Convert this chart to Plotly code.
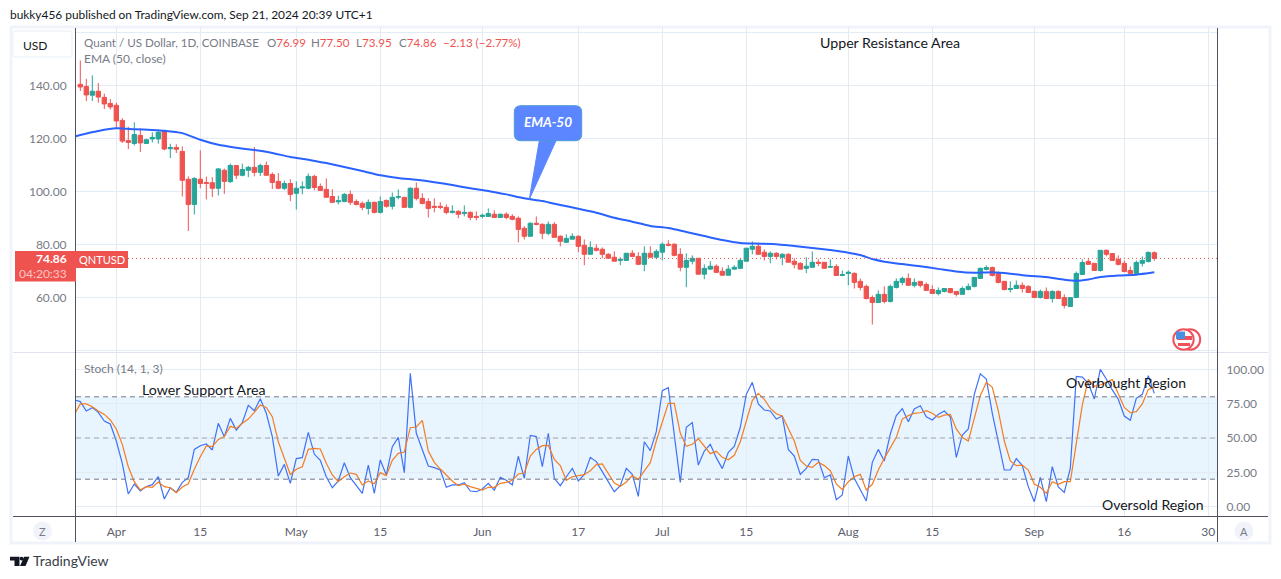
import pandas as pd
import plotly.graph_objects as go

W, H = 1281, 579
FONT = "Lato"
GREY = "#787b86"
UP = "#26a69a"
DOWN = "#ef5350"

# candles, one per day from 2024-03-26
opens = [
    140.5, 139.7, 136.4, 137.9, 135.6, 133.3, 132.6, 126.9, 119.3, 118.2,
    121.3, 118.2, 119.9, 119.9, 122.9, 116.2, 116.7, 115.2, 104.7, 95.2,
    104.7, 103.5, 103.4, 101.3, 108.1, 103.8, 109.9, 106.2, 108.1, 109.2,
    107.3, 109.9, 106.5, 103.9, 101.3, 103.1, 99.4, 101.4, 101.3, 105.8,
    102, 100.9, 98.2, 96.2, 96.3, 99, 96.3, 95.6, 93.7, 96,
    92.2, 96.7, 94.5, 97.9, 97.9, 94.1, 101.3, 97.5, 96.3, 94.5,
    94.5, 94.1, 92.2, 92.6, 91.8, 92.2, 90.7, 90.7, 90.7, 91.5,
    90.3, 91.5, 90.7, 90, 86.2, 83.2, 88.1, 87.7, 84.3, 87.7,
    83.2, 80.9, 82.1, 83.2, 79.8, 76.4, 78.7, 78.3, 76.4, 75.3,
    74.1, 74.1, 76.8, 75.6, 72.6, 76.8, 75.3, 77.2, 80.2, 80.2,
    76.4, 71.5, 73.8, 74.9, 68.9, 70.8, 71.9, 70, 68.5, 70.8,
    71.1, 73.8, 78.3, 79.4, 77.2, 75.6, 76.8, 75.3, 76.4, 73.8,
    73, 71.1, 71.5, 73.4, 73.4, 71.5, 71.8, 68.4, 69.2, 69.2,
    66.2, 64.3, 60.1, 58.2, 61.3, 58.6, 63.9, 65.8, 67.3, 64.7,
    66.2, 65, 63.1, 61.6, 62.4, 63.5, 62.4, 61.3, 63.1, 64.3,
    67.3, 70.7, 71.4, 69.2, 66.2, 63.1, 63.5, 64.7, 64.3, 62.4,
    60.1, 62.4, 59.7, 62.4, 60.1, 56.7, 60.1, 68.8, 73.7, 73,
    70.3, 77.9, 76.7, 74.5, 73, 70.3, 69.2, 73, 73.7, 76.99,
]
closes = [
    139.5, 136.5, 137.9, 135.7, 133.1, 132, 126.7, 119.1, 118.6, 121.6,
    118.4, 119.6, 120.5, 122.4, 116.1, 116.7, 116, 104.3, 95.2, 105,
    103.1, 103.1, 101.3, 108.6, 103.9, 109.9, 106.2, 108.4, 109.2, 107.3,
    109.9, 106.2, 103.5, 101.3, 103.1, 99, 101.3, 101.8, 105.8, 101.6,
    100.5, 97.9, 96, 96.6, 99, 96, 95.2, 94.1, 96, 92.2,
    96.3, 94.5, 97.9, 98.2, 94.1, 101.3, 97.5, 95.6, 93.7, 94.1,
    94.1, 92.2, 92.6, 91.5, 92.2, 90.3, 90.3, 91.1, 91.8, 90.3,
    91.5, 90.3, 89.6, 85.8, 83.2, 88.1, 87.7, 84.3, 87.7, 82.8,
    81.3, 82.4, 83.2, 79.4, 76.4, 79, 77.9, 76.4, 74.9, 73.8,
    74.5, 76.8, 75.6, 72.6, 76.8, 75.3, 77.5, 80.2, 79.8, 76,
    71.5, 74.1, 74.9, 68.9, 71.1, 71.9, 69.6, 68.5, 70.8, 71.5,
    74.1, 78.7, 79.4, 76.4, 75.6, 76.8, 75.6, 76.4, 73.4, 72.6,
    70.8, 71.9, 73.4, 73, 71.1, 71.8, 68.4, 68.8, 69.6, 65.8,
    63.9, 59.7, 58.2, 61.3, 58.6, 64.3, 66.2, 67.3, 64.7, 65.8,
    64.7, 62.8, 61.6, 62.8, 63.5, 62, 61.3, 63.5, 64.3, 67.7,
    71.1, 71.4, 68.4, 65.8, 63.1, 63.5, 64.7, 63.5, 62, 60.1,
    62.4, 59.7, 62.4, 59.7, 57.1, 60.1, 69.2, 73.3, 72.6, 70.3,
    77.9, 76.4, 74.1, 72.6, 69.9, 69.2, 73.3, 74.1, 77.1, 74.86,
]
highs = [
    149.5, 142.6, 143.9, 141, 137, 135, 133.6, 127.7, 124.5, 126.2,
    123.9, 120, 122.4, 123.1, 123.1, 118.1, 117.9, 117.1, 105.8, 105.5,
    115.6, 105.7, 105.5, 108.9, 108.7, 110.6, 109.9, 110.6, 109.7, 116.9,
    110.6, 111.4, 107.3, 107, 104.2, 104.7, 103.9, 103.9, 106.9, 106.4,
    103.1, 105, 100.9, 98.5, 99.5, 100.5, 97.1, 96.3, 97.1, 96.3,
    98.2, 97.1, 99.7, 100.9, 97.9, 101.7, 103.5, 99.4, 97.5, 97.5,
    96, 95.2, 94.9, 93, 94.9, 92.6, 92.6, 91.8, 93.7, 93,
    91.8, 92.2, 91.5, 90.7, 87, 88.5, 90.7, 88.1, 88.8, 88.5,
    83.6, 83.9, 84.3, 83.6, 82, 81.3, 80.2, 79, 76.8, 77.5,
    75.3, 76.8, 77.9, 77.2, 79.4, 79.4, 78.3, 80.9, 81.7, 80.5,
    78.7, 76.8, 76, 74.9, 72.6, 73.8, 72.6, 71.5, 72.3, 72.3,
    74.9, 78.7, 81.3, 80.9, 78.3, 77.5, 77.2, 76.8, 76.8, 74.9,
    73.4, 75.3, 77.5, 74.5, 73.4, 74.5, 72.6, 70.3, 70.3, 69.6,
    67.3, 65, 60.9, 62.8, 64.3, 65, 67.3, 68, 69.2, 67.3,
    66.2, 65.8, 64.7, 63.9, 63.5, 63.5, 62.4, 64.3, 65.4, 67.7,
    71.4, 72.2, 71.8, 69.9, 66.2, 66.2, 66.5, 65.8, 64.7, 62.8,
    63.1, 63.9, 62.8, 62.8, 61.3, 60.1, 69.9, 74.5, 74.8, 73,
    77.9, 78.2, 76.7, 76, 74.1, 71.8, 74.1, 75.6, 77.5, 77.5,
]
lows = [
    138, 134.2, 134.2, 133.6, 131.2, 131, 123.8, 118.4, 116.1, 117.4,
    115, 118, 118.6, 118.1, 115.6, 112.7, 114.6, 98.2, 85.2, 91.4,
    101.3, 97.1, 98, 98.6, 99.2, 103.3, 104.8, 105.8, 105.5, 105.8,
    105.9, 106.2, 101, 100.9, 100.6, 96.4, 93.3, 99, 100.9, 100.5,
    100.5, 97.9, 96, 95.2, 96, 95, 94.8, 93, 91.4, 91.8,
    91.8, 94, 93.3, 97.1, 94.1, 93.7, 96.7, 95.2, 90.3, 92.2,
    93.4, 91.5, 91.8, 90, 90.7, 89.2, 89.2, 90, 90.7, 90.3,
    90.3, 89.6, 89.2, 80.9, 82, 83.2, 87.3, 82.1, 83.6, 82.8,
    79.4, 80.9, 82.1, 77.2, 72.3, 76.4, 77.5, 74.9, 74.9, 73.8,
    72.3, 74.1, 75.6, 72.6, 70, 75.3, 74.5, 74.1, 79.4, 75.6,
    70, 64, 72.6, 68.9, 67, 70.8, 69.3, 68.5, 68.5, 70.8,
    71.1, 73.8, 76.4, 76.4, 74.1, 73, 74.5, 72.3, 73.4, 71.1,
    70.8, 69.3, 71.5, 71.9, 71.1, 71.5, 68.4, 68.1, 64.7, 63.5,
    62.8, 59.4, 49.9, 58.2, 57.9, 58.2, 63.5, 64.7, 64.7, 63.9,
    63.9, 62.8, 61.6, 60.9, 62, 61.6, 60.5, 61.3, 62.8, 63.9,
    67.3, 70.3, 68, 65.4, 62.8, 62, 63.5, 62, 62, 60.1,
    59.7, 59.7, 58.2, 59.7, 56, 56.7, 60.1, 68.8, 72.6, 70.3,
    69.9, 75.6, 74.1, 72.2, 69.6, 69.2, 69.2, 71.8, 73.3, 73.95,
]

# EMA read every few days (day number counted from 2024-03-26)
ema_days = [
    -1, 0, 3, 6, 9, 12, 14, 17, 20, 23, 26, 29, 32, 35, 38, 41, 44, 47, 50, 53,
    56, 59, 62, 65, 68, 71, 74, 77, 80, 83, 86, 89, 92, 95, 98, 101, 104, 107, 110, 113,
    116, 119, 122, 125, 128, 130, 132, 134, 137, 140, 143, 146, 149, 152, 155, 158, 161, 164, 166, 168,
    170, 173, 176, 179,
]
ema_values = [
    120.8, 121.4, 122.9, 123.9, 123.6, 123.3, 123.0, 122.1, 119.6, 117.7, 116.6, 115.7, 114.6, 113.1, 112.1, 110.8, 109.3, 107.8, 106.2, 105.2,
    104.5, 103.6, 102.5, 101.3, 100.3, 99, 97.5, 96.5, 95, 93.6, 92.1, 90.2, 88.7, 87.1, 86.3, 84.8, 83.3, 81.8, 80.7, 80.4,
    80.2, 79.5, 78.8, 78, 77, 76.1, 74.6, 73.6, 72.7, 71.9, 70.9, 69.9, 69.4, 69.6, 69.1, 68.3, 67.8, 66.8, 66.4, 66.9,
    67.8, 68.4, 68.7, 69.6,
]

# stochastic, one per day from 2024-03-25
stoch_k = [
    77.7, 76.5, 69.7, 72.1, 68.7, 62.4, 60.2, 47.8, 31.6, 9.2, 16.5, 11.4, 14.6, 16, 21.8, 5.6, 13.8, 10.4, 17.7, 21.1,
    41.7, 44.4, 45.6, 41.3, 60.7, 51, 64.3, 55.8, 61.2, 73.8, 69.9, 78.6, 68, 51, 22.3, 30.8, 17, 35, 35.7, 54.1,
    38.3, 33.7, 21.8, 13.8, 18.7, 32, 21.1, 15.8, 9.7, 30.3, 9.7, 34, 23.1, 43.7, 50.5, 24.8, 97.1, 53.4, 41.3, 29.6,
    28.4, 26.7, 14.1, 15.8, 15.8, 17.5, 11.4, 10.9, 12.9, 17, 12.1, 21.4, 19.2, 15.8, 36.7, 20.6, 51.9, 51, 29.1, 53.4,
    20.6, 15.3, 21.8, 27.9, 18.7, 23.5, 35.9, 32.8, 25.5, 18.2, 10.9, 15.3, 27.9, 23.5, 7.5, 47.3, 40.8, 54.6, 84.5, 86.7,
    52.2, 17.7, 57.8, 61.2, 30.3, 40.5, 45.4, 35.7, 27.7, 39.6, 43.9, 57.8, 81.8, 90.5, 74.8, 70.4, 69.7, 63.8, 66, 41.7,
    36.9, 23.5, 27.9, 34.5, 34.2, 21.1, 23.1, 5.1, 8.5, 36.9, 20.6, 12.1, 4.1, 32.3, 41.7, 33.3, 52.9, 66.3, 71.4, 61.9,
    71.1, 73.5, 65.5, 63.1, 67.2, 69.7, 65.5, 35.9, 52.2, 56.6, 81.8, 96.8, 93, 68, 46.1, 26.7, 26.7, 35, 29.9, 14.6,
    3.6, 21.4, 3.6, 29.1, 14.3, 10.4, 27.9, 94.9, 94.4, 89.8, 78.4, 100, 93, 85, 78.2, 66, 62.9, 78.9, 81.8, 95.4,
    82.5,
]
stoch_d = [
    67.2, 74.8, 74.8, 72.8, 69.7, 67.2, 63.1, 56.6, 45.4, 29.1, 18.2, 12.1, 14.6, 14.1, 18, 14.6, 13.8, 10.2, 14.3, 16.7,
    27.2, 36.4, 44.2, 43.7, 49, 51, 58.5, 57, 60.7, 63.8, 68.7, 74, 72.3, 65.5, 47.3, 35.2, 23.5, 27.2, 29.1, 41.7,
    42.5, 42, 31.6, 23.1, 18.2, 21.8, 24.5, 23.5, 15.8, 18.7, 16.7, 24.8, 22.6, 33.7, 38.8, 39.8, 57.5, 58, 62.9, 40.5,
    32.3, 27.4, 23.1, 18.7, 15.3, 16.3, 14.6, 13.3, 12.1, 14.1, 14.1, 17, 17.7, 19.2, 23.8, 24.5, 36.9, 41.7, 44.4, 44.7,
    34.5, 29.9, 19.2, 21.8, 22.8, 23.3, 26.2, 30.6, 31.1, 24.3, 17.2, 14.8, 18, 22.6, 19.7, 26, 32, 47.8, 61.9, 75.2,
    75.2, 53.4, 43.9, 45.4, 49.5, 43.7, 38.6, 40.3, 35.9, 34.2, 37.4, 47.3, 61.9, 77.2, 82.5, 78.2, 71.6, 67.7, 66, 57,
    47.8, 33.7, 29.6, 28.6, 32.3, 29.9, 26.2, 16.5, 12.4, 18.2, 21.8, 23.5, 12.1, 16.3, 26.7, 35.2, 42.5, 50.5, 63.8, 66.3,
    68, 68.4, 69.9, 68, 65, 66.7, 67.2, 56.6, 50.5, 47.8, 64.3, 80.8, 90.5, 86.9, 69.7, 47.8, 33.3, 29.9, 30.3, 26.7,
    16.5, 14.1, 9.7, 18.2, 16.3, 18.2, 18.2, 44.9, 74, 92.7, 87.6, 88.6, 90.3, 92.5, 82, 72.3, 68.4, 69.2, 74.8, 85.4,
    86.9,
]

tick_dates = ["2024-04-01", "2024-04-15", "2024-05-01", "2024-05-15", "2024-06-01", "2024-06-17", "2024-07-01",
              "2024-07-15", "2024-08-01", "2024-08-15", "2024-09-01", "2024-09-16", "2024-09-30"]
tick_labels = ["Apr", "15", "May", "15", "Jun", "17", "Jul", "15", "Aug", "15", "Sep", "16", "30"]
price_ticks = [160, 140, 120, 100, 80, 60, 40]
price_labels = ["", "140.00", "120.00", "100.00", "80.00", "60.00", ""]
stoch_ticks = [100, 75, 50, 25, 0]
stoch_labels = ["100.00", "75.00", "50.00", "25.00", "0.00"]
last_close = 74.86

start = pd.Timestamp("2024-03-26")
dates = pd.date_range(start, periods=len(opens), freq="D")
ema_dates = [start + pd.Timedelta(days=d) for d in ema_days]
stoch_dates = pd.date_range("2024-03-25", periods=len(stoch_k), freq="D")


def px(x):
    return x / W


def py(y):
    return 1 - y / H


def label(x, y, text, size=12, color=GREY, anchor="left", family=FONT):
    # annotations carry a small inner padding, take it back so x is the ink edge
    nudge = {"left": -2, "right": 2, "center": 0}[anchor]
    return dict(xref="paper", yref="paper", x=px(x + nudge), y=py(y), text=text, showarrow=False,
                xanchor=anchor, yanchor="middle", align=anchor,
                font=dict(family=family, size=size, color=color))


def box(x0, y0, x1, y1, fill=None, line=None, width=1, layer="above"):
    return dict(type="rect", xref="paper", yref="paper", x0=px(x0), y0=py(y0), x1=px(x1), y1=py(y1),
                fillcolor=fill or "rgba(0,0,0,0)", layer=layer,
                line=dict(color=line or "rgba(0,0,0,0)", width=width))


def rule(x0, y0, x1, y1, color, width=1, layer="above"):
    return dict(type="line", xref="paper", yref="paper", x0=px(x0), y0=py(y0), x1=px(x1), y1=py(y1),
                layer=layer, line=dict(color=color, width=width))


def circle(cx, cy, r, fill=None, line=None, width=1):
    return dict(type="circle", xref="paper", yref="paper", x0=px(cx - r), y0=py(cy - r), x1=px(cx + r), y1=py(cy + r),
                fillcolor=fill or "rgba(0,0,0,0)", line=dict(color=line or "rgba(0,0,0,0)", width=width))


def poly(points, fill, line=None, width=1):
    path = "M " + " L ".join(f"{px(a):.5f},{py(b):.5f}" for a, b in points) + " Z"
    return dict(type="path", xref="paper", yref="paper", path=path, fillcolor=fill,
                line=dict(color=line or "rgba(0,0,0,0)", width=width))


fig = go.Figure()
fig.add_trace(go.Candlestick(
    x=dates, open=opens, high=highs, low=lows, close=closes, xaxis="x", yaxis="y",
    increasing=dict(line=dict(color=UP, width=1), fillcolor=UP),
    decreasing=dict(line=dict(color=DOWN, width=1), fillcolor=DOWN),
    whiskerwidth=0,
))
fig.add_trace(go.Scatter(x=ema_dates, y=ema_values, mode="lines", xaxis="x", yaxis="y",
                         line=dict(color="#2962ff", width=2, shape="spline", smoothing=0.6)))
fig.add_trace(go.Scatter(x=stoch_dates, y=stoch_k, mode="lines", xaxis="x2", yaxis="y2",
                         line=dict(color="#3f72f7", width=1.2)))
fig.add_trace(go.Scatter(x=stoch_dates, y=stoch_d, mode="lines", xaxis="x2", yaxis="y2",
                         line=dict(color="#f57c1f", width=1.2)))

x_range = ["2024-03-25 06:48", "2024-10-01 10:48"]
x_common = dict(range=x_range, type="date", tickmode="array", tickvals=tick_dates, showgrid=True,
                gridcolor="#e3ecf5", gridwidth=1, zeroline=False, showline=False,
                domain=[px(76), px(1217)])

shapes = [
    # outer frame and pane borders
    box(11, 27, 1270, 543, line="#f0f3fa", width=3, layer="below"),
    # stochastic band, levels
    dict(type="rect", xref="x2 domain", yref="y2", x0=0, x1=1, y0=20, y1=80, layer="below",
         fillcolor="rgba(33,150,243,0.1)", line=dict(width=0)),
    dict(type="line", xref="x2 domain", yref="y2", x0=0, x1=1, y0=80, y1=80, line=dict(color="#787b86", width=1, dash="5px,4px")),
    dict(type="line", xref="x2 domain", yref="y2", x0=0, x1=1, y0=50, y1=50, line=dict(color="#a3a6af", width=1, dash="5px,4px")),
    dict(type="line", xref="x2 domain", yref="y2", x0=0, x1=1, y0=20, y1=20, line=dict(color="#787b86", width=1, dash="5px,4px")),
    # last price line
    dict(type="line", xref="x domain", yref="y", x0=0, x1=1, y0=last_close, y1=last_close,
         line=dict(color=DOWN, width=1, dash="1px,3px")),
    rule(13, 352.5, 1268, 352.5, "#e0e3eb"),
    rule(13, 516.5, 1268, 516.5, "#50535e"),
    rule(75.5, 28, 75.5, 542, "#50535e"),
    rule(1217.5, 28, 1217.5, 542, "#50535e"),
    # USD button
    dict(type="path", xref="paper", yref="paper", fillcolor="#ffffff", line=dict(color="#f0f3fa", width=1.5),
         path=(f"M {px(16)},{py(31)} L {px(69)},{py(31)} Q {px(72)},{py(31)} {px(72)},{py(34)} L {px(72)},{py(54)} "
               f"Q {px(72)},{py(57)} {px(69)},{py(57)} L {px(16)},{py(57)} Q {px(13)},{py(57)} {px(13)},{py(54)} "
               f"L {px(13)},{py(34)} Q {px(13)},{py(31)} {px(16)},{py(31)} Z")),
    # last price tags
    box(15, 251, 76, 281.5, fill=DOWN),
    box(76, 251, 128, 268, fill=DOWN),
    # EMA-50 callout
    poly([(539.3, 140.7), (556, 140.7), (529.3, 199.3)], "#5b86ff", "#5b86ff"),
    dict(type="path", xref="paper", yref="paper", fillcolor="#5b86ff", line=dict(color="#4a9bd8", width=1),
         path=(f"M {px(521)},{py(105.7)} L {px(575)},{py(105.7)} Q {px(581.7)},{py(105.7)} {px(581.7)},{py(112)} "
               f"L {px(581.7)},{py(134)} Q {px(581.7)},{py(140.7)} {px(575)},{py(140.7)} L {px(521)},{py(140.7)} "
               f"Q {px(514.3)},{py(140.7)} {px(514.3)},{py(134)} L {px(514.3)},{py(112)} "
               f"Q {px(514.3)},{py(105.7)} {px(521)},{py(105.7)} Z")),
    # flag badge
    circle(1190, 339.5, 10.2, fill="#ffffff", line="#f0515a", width=2),
    circle(1183.5, 339.5, 10.2, fill="#ffffff", line="#f0515a", width=2),
    box(1177, 336, 1192, 340, fill="#f0515a"),
    box(1178, 343, 1190, 346, fill="#f0515a"),
    box(1176, 331.5, 1185, 339, fill="#4a90e2"),
    # scale buttons
    circle(42.5, 531, 9.5, fill="#f0f3fa"),
    circle(1244, 531, 9.5, fill="#f0f3fa"),
    # logo
    poly([(10, 556.7), (19.5, 556.7), (19.5, 566), (14.5, 566), (14.5, 560.5), (10, 560.5)], "#131722"),
    circle(21.5, 558.6, 1.9, fill="#131722"),
    poly([(24, 556.7), (29.5, 556.7), (25.5, 566), (20, 566)], "#131722"),
]

annotations = [
    label(10, 15, "bukky456 published on TradingView.com, Sep 21, 2024 20:39 UTC+1", 11.9, "#131722"),
    label(23, 45, "USD", 12, "#131722"),
    label(84, 42, "Quant / US Dollar, 1D, COINBASE", 11.6, GREY),
    label(267, 42, f'O<span style="color:{DOWN}">76.99</span>', 11.6, GREY),
    label(311, 42, f'H<span style="color:{DOWN}">77.50</span>', 11.6, GREY),
    label(356, 42, f'L<span style="color:{DOWN}">73.95</span>', 11.6, GREY),
    label(399, 42, f'C<span style="color:{DOWN}">74.86</span>', 11.6, GREY),
    label(443, 42, "−2.13 (−2.77%)", 11.6, DOWN),
    label(84, 59, "EMA (50, close)", 12, GREY),
    label(84, 368, "Stoch (14, 1, 3)", 12, GREY),
    label(820, 42, "Upper Resistance Area", 14.2, "#131722"),
    label(142, 390, "Lower Support Area", 14.2, "#131722"),
    label(1066, 383, "Overbought Region", 14, "#131722"),
    label(1102, 504, "Oversold Region", 14, "#131722"),
    label(548, 122, "<b><i>EMA-50</i></b>", 13.5, "#ffffff", "center"),
    label(67, 258.5, "<b>74.86</b>", 12, "#ffffff", "right"),
    label(67, 273.5, "04:20:33", 12, "#fbc5c4", "right"),
    label(102, 259.5, "QNTUSD", 11, "#ffffff", "center"),
    label(42.5, 531.5, "Z", 11, GREY, "center"),
    label(1244, 531.5, "A", 11, GREY, "center"),
    label(33, 560, "TradingView", 14, "#3a3e4a"),
]

fig.update_layout(
    width=W, height=H, margin=dict(l=0, r=0, t=0, b=0, pad=0),
    paper_bgcolor="#ffffff", plot_bgcolor="#ffffff", showlegend=False,
    font=dict(family=FONT, size=12, color=GREY),
    boxgap=0.15, boxgroupgap=0.15,
    xaxis=dict(**x_common, anchor="y", showticklabels=False, ticks="", rangeslider=dict(visible=False)),
    xaxis2=dict(**x_common, anchor="y2", ticktext=tick_labels, ticks="outside", ticklen=5,
                tickcolor="rgba(0,0,0,0)", tickfont=dict(family=FONT, size=12, color="#5d606b")),
    yaxis=dict(domain=[py(352.4), py(28.4)], range=[39.4, 161.6], side="left", anchor="x",
               tickmode="array", tickvals=price_ticks, ticktext=price_labels, ticks="outside", ticklen=6,
               tickcolor="rgba(0,0,0,0)", gridcolor="#e3ecf5", zeroline=False, showline=False,
               tickfont=dict(family=FONT, size=12, color=GREY)),
    yaxis2=dict(domain=[py(516), py(353)], range=[-6.8, 111.9], side="right", anchor="x2",
                tickmode="array", tickvals=stoch_ticks, ticktext=stoch_labels, ticks="outside", ticklen=6,
                tickcolor="rgba(0,0,0,0)", gridcolor="#e3ecf5", zeroline=False, showline=False,
                tickfont=dict(family=FONT, size=12, color=GREY)),
    shapes=shapes,
    annotations=annotations,
)

fig.write_html("out.html", config=dict(displayModeBar=False),
               post_script="document.body.style.margin='0';")
